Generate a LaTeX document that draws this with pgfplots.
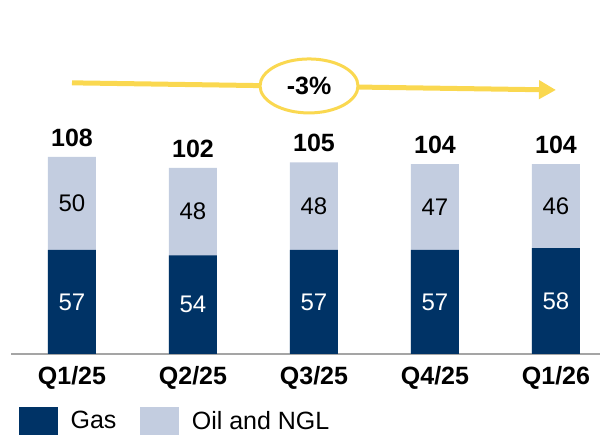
\documentclass[border=0pt]{standalone}
\usepackage{fontspec}
\setmainfont{Liberation Sans}
\usepackage{pgfplots}
\pgfplotsset{compat=1.18}
\usetikzlibrary{arrows.meta}

\definecolor{gasblue}{RGB}{0,51,102}
\definecolor{oilblue}{RGB}{195,205,224}
\definecolor{trendyellow}{RGB}{250,216,80}
\definecolor{axisgray}{RGB}{165,165,165}

\newcommand{\bigfont}{\fontsize{24}{28}\selectfont}
\newcommand{\boldfont}{\fontsize{25}{30}\selectfont\bfseries}

\begin{document}
\begin{tikzpicture}
\path[use as bounding box] (0,0) rectangle (600pt,435pt);
\begin{axis}[
    at={(11.5pt,81pt)}, anchor=south west,
    scale only axis,
    width=588.5pt, height=354pt,
    xmin=-0.5, xmax=4.364,
    ymin=0, ymax=194,
    ybar, bar width=48pt, bar shift=0pt,
    axis y line=none,
    axis x line*=bottom,
    x axis line style={axisgray, line width=2pt},
    xtick={0,...,4},
    xticklabels={Q1/25,Q2/25,Q3/25,Q4/25,Q1/26},
    xticklabel style={font=\boldfont, yshift=-9pt},
    major tick length=0pt,
    clip=false,
    legend columns=2,
    legend style={at={(0.0127,-0.189)}, anchor=west, draw=none, fill=none,
        inner sep=0pt, font=\fontsize{25}{30}\selectfont,
        column sep=11pt,
        /tikz/every even column/.append style={column sep=22pt}},
]
\addlegendimage{legend image code/.code={\fill[gasblue] (0pt,-14pt) rectangle (38pt,14pt);}}
\addlegendentry{Gas}
\addlegendimage{legend image code/.code={\fill[oilblue] (0pt,-14pt) rectangle (38pt,14pt);}}
\addlegendentry{Oil and NGL}

% totals (oil drawn full height, gas on top)
\addplot[forget plot, fill=oilblue, draw=none, bar shift=0pt] coordinates {
    (0,108) (1,102) (2,105) (3,104) (4,104)};
\addplot[forget plot, fill=gasblue, draw=none, bar shift=0pt] coordinates {
    (0,57) (1,54) (2,57) (3,57) (4,58)};

% gas labels
\addplot[forget plot, draw=none, fill=none, bar shift=0pt,
    nodes near coords, point meta=explicit symbolic,
    nodes near coords style={font=\bigfont, text=white, inner sep=0pt, yshift=-8.6pt}]
    coordinates {(0,28.5)[57] (1,27)[54] (2,28.5)[57] (3,28.5)[57] (4,29)[58]};
% oil labels
\addplot[forget plot, draw=none, fill=none, bar shift=0pt,
    nodes near coords, point meta=explicit symbolic,
    nodes near coords style={font=\bigfont, text=black, inner sep=0pt, yshift=-8.6pt}]
    coordinates {(0,82.5)[50] (1,78)[48] (2,81)[48] (3,80.5)[47] (4,81)[46]};
% total labels
\addplot[forget plot, draw=none, fill=none, bar shift=0pt,
    nodes near coords, point meta=explicit symbolic,
    nodes near coords style={font=\boldfont, text=black, inner sep=0pt, yshift=10pt}]
    coordinates {(0,108)[108] (1,102)[102] (2,105)[105] (3,104)[104] (4,104)[104]};

% trend arrow
\draw[trendyellow, line width=5pt, -{Triangle[length=17pt, width=18pt]}]
    (axis cs:0,148.6) -- (axis cs:4,144.7);
\draw[trendyellow, line width=3pt, fill=white]
    (axis cs:1.959,146.9) ellipse [x radius=49pt, y radius=27pt];
\node[font=\boldfont] at (axis cs:1.959,146.9) {-3\%};
\legend{Gas, Oil and NGL}
\end{axis}
\end{tikzpicture}
\end{document}
